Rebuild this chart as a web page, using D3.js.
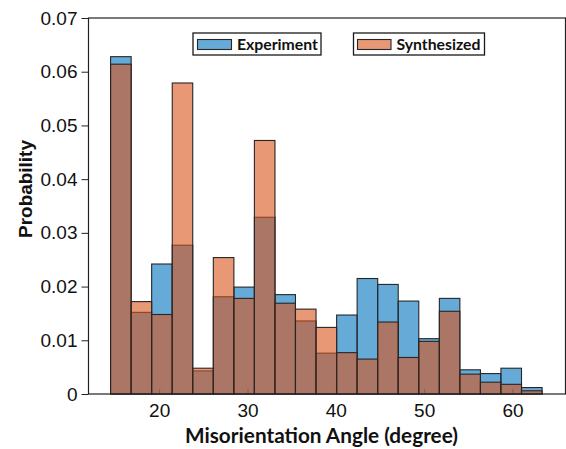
<!DOCTYPE html>
<html>
<head>
<meta charset="utf-8">
<script src="https://cdn.jsdelivr.net/npm/d3@7"></script>
<style>
  html, body { margin: 0; padding: 0; background: #fff; }
  svg { display: block; }
</style>
</head>
<body>
<svg id="chart" width="566" height="449"></svg>
<script>
// Histogram bin edges (degrees) shared by both distributions
const binEdges = [14.50, 16.83, 19.15, 21.48, 23.80, 26.13, 28.46, 30.78, 33.11, 35.43, 37.76,
                  40.09, 42.41, 44.74, 47.06, 49.39, 51.72, 54.04, 56.37, 58.69, 61.02, 63.35];

// Probability per bin
const experiment = [0.0628, 0.0152, 0.0242, 0.0277, 0.0043, 0.0181, 0.0199, 0.0329, 0.0185, 0.0136, 0.0076,
                    0.0147, 0.0215, 0.0204, 0.0173, 0.0103, 0.0178, 0.0045, 0.0038, 0.0048, 0.0012];
const synthesized = [0.0614, 0.0172, 0.0148, 0.0579, 0.0048, 0.0254, 0.0178, 0.0472, 0.0169, 0.0158, 0.0124,
                     0.0077, 0.0065, 0.0134, 0.0068, 0.0098, 0.0154, 0.0037, 0.0022, 0.0018, 0.0006];

const seriesNames = ["Experiment", "Synthesized"];
const xTicks = [20, 30, 40, 50, 60];
const yTicks = [0, 0.01, 0.02, 0.03, 0.04, 0.05, 0.06, 0.07];

const svg = d3.select("#chart");
const L = 88.5, R = 565.5, T = 18, B = 394;

const x = d3.scaleLinear().domain([12, 66]).range([L, R]);
const y = d3.scaleLinear().domain([0, 0.07]).range([B, T]);

const blue = "#0072BD", orange = "#D95319";

// x ticks point inward and sit beneath the translucent bars
const xAxis = d3.axisBottom(x).tickValues(xTicks).tickSize(-5).tickPadding(9).tickFormat(d3.format("d"));
const gx = svg.append("g").attr("transform", `translate(0,${B})`).call(xAxis);
gx.select(".domain").remove();
gx.selectAll(".tick line").attr("stroke", "#444");
gx.selectAll(".tick text").attr("font-family", "'Liberation Sans', Arial, sans-serif")
  .attr("font-size", 19).attr("fill", "#111").attr("dy", "0.72em");

function drawBars(values, color, cls) {
  svg.append("g").attr("class", cls)
    .selectAll("rect").data(values).join("rect")
    .attr("x", (d, i) => x(binEdges[i]))
    .attr("width", (d, i) => x(binEdges[i + 1]) - x(binEdges[i]))
    .attr("y", d => y(d))
    .attr("height", d => y(0) - y(d))
    .attr("fill", color).attr("fill-opacity", 0.6)
    .attr("stroke", "#262626").attr("stroke-width", 1.1);
}
drawBars(experiment, blue, "exp");
drawBars(synthesized, orange, "syn");

// y axis with outward ticks
const yAxis = d3.axisLeft(y).tickValues(yTicks).tickSize(7).tickPadding(4)
  .tickFormat(d => d === 0 ? "0" : d3.format(".2f")(d));
const gy = svg.append("g").attr("transform", `translate(${L},0)`).call(yAxis);
gy.select(".domain").remove();
gy.selectAll(".tick line").attr("stroke", "#222");
gy.selectAll(".tick text").attr("font-family", "'Liberation Sans', Arial, sans-serif")
  .attr("font-size", 19).attr("fill", "#111");

// axes frame
svg.append("rect").attr("x", L).attr("y", T).attr("width", R - L).attr("height", B - T)
  .attr("fill", "none").attr("stroke", "#222").attr("stroke-width", 1.2);

// fit a text element's font size to a target width
function fitWidth(sel, target) {
  const fs = +sel.attr("font-size");
  const w = sel.node().getComputedTextLength();
  sel.attr("font-size", fs * target / w);
}

// legend: one framed entry per series
const legendBoxes = [
  { x0: 193, x1: 321, sw0: 197.5, sw1: 231.5, t0: 237, t1: 318 },
  { x0: 353.5, x1: 484.5, sw0: 357.5, sw1: 391, t0: 396.5, t1: 480.5 }
];
const colors = [blue, orange];
legendBoxes.forEach((b, i) => {
  const g = svg.append("g");
  g.append("rect").attr("x", b.x0).attr("y", 33).attr("width", b.x1 - b.x0).attr("height", 22)
    .attr("fill", "#fff").attr("stroke", "#1a1a1a").attr("stroke-width", 1.3);
  g.append("rect").attr("x", b.sw0).attr("y", 39.5).attr("width", b.sw1 - b.sw0).attr("height", 10)
    .attr("fill", colors[i]).attr("fill-opacity", 0.6).attr("stroke", "#262626").attr("stroke-width", 1.1);
  const t = g.append("text").attr("x", b.t0).attr("y", 50)
    .attr("font-family", "Lato, 'Open Sans', sans-serif").attr("font-weight", "bold")
    .attr("font-size", 15).attr("fill", "#111").text(seriesNames[i]);
  fitWidth(t, b.t1 - b.t0);
});

// axis titles
const xl = svg.append("text").attr("x", 321.5).attr("y", 442.5).attr("text-anchor", "middle")
  .attr("font-family", "Lato, 'Open Sans', sans-serif").attr("font-weight", "bold")
  .attr("font-size", 19).attr("fill", "#111").text("Misorientation Angle (degree)");
fitWidth(xl, 273);

const yl = svg.append("text").attr("transform", "translate(31.5,189) rotate(-90)")
  .attr("text-anchor", "middle")
  .attr("font-family", "'Liberation Sans', Arial, sans-serif").attr("font-weight", "bold")
  .attr("font-size", 19).attr("fill", "#111").text("Probability");
fitWidth(yl, 98);
</script>
</body>
</html>
